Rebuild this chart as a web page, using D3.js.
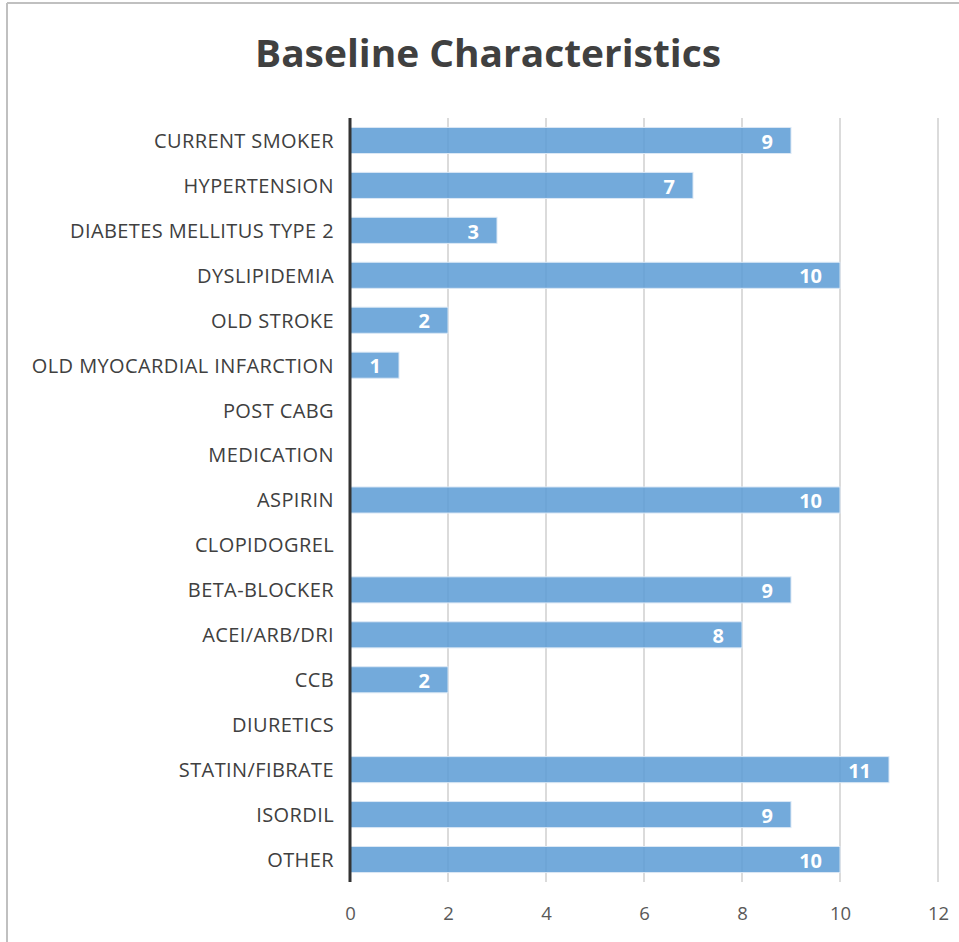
<!DOCTYPE html>
<html>
<head>
<meta charset="utf-8">
<script src="https://cdn.jsdelivr.net/npm/d3@7"></script>
<style>
  body { margin: 0; background: #fff; }
  svg { display: block; }
</style>
</head>
<body>
<svg id="chart" width="959" height="942"></svg>
<script>
var categories = ["CURRENT SMOKER", "HYPERTENSION", "DIABETES MELLITUS TYPE 2", "DYSLIPIDEMIA",
  "OLD STROKE", "OLD MYOCARDIAL INFARCTION", "POST CABG", "MEDICATION", "ASPIRIN",
  "CLOPIDOGREL", "BETA-BLOCKER", "ACEI/ARB/DRI", "CCB", "DIURETICS", "STATIN/FIBRATE",
  "ISORDIL", "OTHER"];
var counts = [9, 7, 3, 10, 2, 1, 0, 0, 10, 0, 9, 8, 2, 0, 11, 9, 10];
var xTicks = [0, 2, 4, 6, 8, 10, 12];

var data = categories.map(function (c, i) { return { name: c, value: counts[i] }; });

var svg = d3.select("#chart");
var font = "'Open Sans', 'Noto Sans', sans-serif";

// chart frame (only top and left visible in the crop)
svg.append("line").attr("x1", 7).attr("x2", 959).attr("y1", 3).attr("y2", 3)
  .attr("stroke", "#c0c0c0").attr("stroke-width", 2);
svg.append("line").attr("x1", 7).attr("x2", 7).attr("y1", 3).attr("y2", 942)
  .attr("stroke", "#c0c0c0").attr("stroke-width", 2);

svg.append("text")
  .attr("x", 488).attr("y", 67)
  .attr("text-anchor", "middle")
  .attr("font-family", font).attr("font-weight", "bold")
  .attr("font-size", 38).attr("fill", "#404040")
  .attr("textLength", 466).attr("lengthAdjust", "spacingAndGlyphs")
  .text("Baseline Characteristics");

var x = d3.scaleLinear().domain([0, 12]).range([350, 938]);
var y = d3.scaleBand().domain(categories).range([118, 882]).paddingInner(0.42).paddingOuter(0.21);

// gridlines
svg.append("g").selectAll("line")
  .data(xTicks.slice(1))
  .enter().append("line")
  .attr("x1", function (d) { return x(d); })
  .attr("x2", function (d) { return x(d); })
  .attr("y1", 118).attr("y2", 882)
  .attr("stroke", "#c8c8c8").attr("stroke-width", 1.3);

// bars
svg.append("g").selectAll("rect")
  .data(data.filter(function (d) { return d.value > 0; }))
  .enter().append("rect")
  .attr("x", x(0))
  .attr("y", function (d) { return y(d.name); })
  .attr("width", function (d) { return x(d.value) - x(0); })
  .attr("height", y.bandwidth())
  .attr("fill", "#5b9bd5").attr("fill-opacity", 0.85)
  .attr("stroke", "#dbe8f5").attr("stroke-width", 1);

// value labels
svg.append("g").selectAll("text")
  .data(data.filter(function (d) { return d.value > 0; }))
  .enter().append("text")
  .attr("x", function (d) { return x(d.value) - 18; })
  .attr("y", function (d) { return y(d.name) + y.bandwidth() / 2 + 1; })
  .attr("dy", "0.36em")
  .attr("text-anchor", "end")
  .attr("font-family", font).attr("font-weight", "bold")
  .attr("font-size", 20).attr("fill", "#ffffff")
  .text(function (d) { return d.value; });

// category axis
var yAxis = svg.append("g")
  .attr("transform", "translate(" + x(0) + ",1)")
  .call(d3.axisLeft(y).tickSize(0).tickPadding(16));
yAxis.select(".domain").remove();
yAxis.selectAll("text")
  .attr("font-family", font).attr("font-size", 20).attr("letter-spacing", "0.4px")
  .attr("fill", "#404040");

svg.append("line")
  .attr("x1", x(0)).attr("x2", x(0)).attr("y1", 118).attr("y2", 882)
  .attr("stroke", "#333333").attr("stroke-width", 3);

// value axis
var xAxis = svg.append("g")
  .attr("transform", "translate(0,882)")
  .call(d3.axisBottom(x).tickValues(xTicks).tickSize(0).tickPadding(25));
xAxis.select(".domain").remove();
xAxis.selectAll("text")
  .attr("font-family", font).attr("font-size", 18.5).attr("fill", "#595959");
</script>
</body>
</html>
